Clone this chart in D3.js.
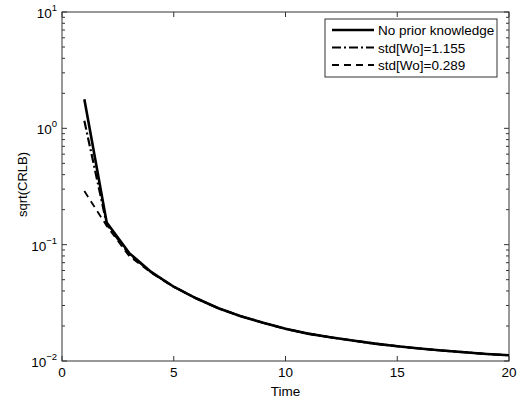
<!DOCTYPE html>
<html>
<head>
<title>sqrt(CRLB) vs Time</title>
<style>
body { margin: 0; background: #fff; font-family: "Liberation Sans", Arial, sans-serif; }
</style>
</head>
<body>
<div id="svg-container"></div>
<script src="https://d3js.org/d3.v7.min.js"></script>
<script>
const width = 527;
const height = 402;

// data
const time = [1, 2, 3, 4, 5, 6, 7, 8, 9, 10, 11, 12, 13, 14, 15, 16, 17, 18, 19, 20];
const noPrior = [1.78, 0.155, 0.085, 0.058, 0.0435, 0.0346, 0.0284, 0.0243, 0.0213, 0.0189,
                 0.0172, 0.0160, 0.0150, 0.0141, 0.0134, 0.0128, 0.0123, 0.0119, 0.0115, 0.0112];
const std1155 = [1.16, 0.150, 0.083, 0.058, 0.0435, 0.0346, 0.0284, 0.0243, 0.0213, 0.0189,
                 0.0172, 0.0160, 0.0150, 0.0141, 0.0134, 0.0128, 0.0123, 0.0119, 0.0115, 0.0112];
const std0289 = [0.289, 0.145, 0.080, 0.057, 0.0433, 0.0345, 0.0284, 0.0243, 0.0213, 0.0189,
                 0.0172, 0.0160, 0.0150, 0.0141, 0.0134, 0.0128, 0.0123, 0.0119, 0.0115, 0.0112];
const seriesNames = ["No prior knowledge", "std[Wo]=1.155", "std[Wo]=0.289"];
const xTicks = [0, 5, 10, 15, 20];
const yDecades = [-2, -1, 0, 1];

const margin = { left: 62, right: 18, top: 12, bottom: 41 };
const x = d3.scaleLinear().domain([0, 20]).range([margin.left, width - margin.right]);
const y = d3.scaleLog().domain([0.01, 10]).range([height - margin.bottom, margin.top]);

const svg = d3.select("#svg-container")
  .append("svg")
  .attr("width", width)
  .attr("height", height);

svg.append("rect")
    .attr("width", width)
    .attr("height", height)
    .attr("fill", "#fff");

const axisColor = "#333";
const font = "'Liberation Sans', Arial, sans-serif";

// box
svg.append("rect")
    .attr("x", x(0))
    .attr("y", y(10))
    .attr("width", x(20) - x(0))
    .attr("height", y(0.01) - y(10))
    .attr("fill", "none")
    .attr("stroke", axisColor)
    .attr("stroke-width", 1);

// y minor/major ticks on both sides (inward)
const yTickVals = [];
yDecades.forEach(d => {
  if (d < 1) {
    for (let m = 1; m <= 9; m++) yTickVals.push({ v: m * Math.pow(10, d), major: m === 1 });
  } else {
    yTickVals.push({ v: Math.pow(10, d), major: true });
  }
});
yTickVals.forEach(t => {
  const len = t.major ? 5 : 3;
  const yy = y(t.v);
  svg.append("line").attr("x1", x(0)).attr("x2", x(0) + len).attr("y1", yy).attr("y2", yy)
    .attr("stroke", axisColor);
  svg.append("line").attr("x1", x(20)).attr("x2", x(20) - len).attr("y1", yy).attr("y2", yy)
    .attr("stroke", axisColor);
});

// x ticks top and bottom
xTicks.forEach(t => {
  svg.append("line").attr("x1", x(t)).attr("x2", x(t)).attr("y1", y(0.01)).attr("y2", y(0.01) - 5)
    .attr("stroke", axisColor);
  svg.append("line").attr("x1", x(t)).attr("x2", x(t)).attr("y1", y(10)).attr("y2", y(10) + 5)
    .attr("stroke", axisColor);
  svg.append("text")
    .attr("x", x(t))
    .attr("y", y(0.01) + 16)
    .attr("text-anchor", "middle")
    .attr("font-family", font)
    .attr("font-size", 13.5)
    .text(t);
});

// y tick labels 10^n
yDecades.forEach(d => {
  const txt = svg.append("text")
    .attr("x", 57)
    .attr("y", y(Math.pow(10, d)) + 6)
    .attr("text-anchor", "end")
    .attr("font-family", font)
    .attr("font-size", 13.5);
  txt.append("tspan").text("10");
  txt.append("tspan").attr("dy", -7).attr("font-size", 9.5).text(d === 1 ? "1" : d === 0 ? "0" : "\u2212" + (-d));
});

// axis labels
svg.append("text")
    .attr("x", (x(0) + x(20)) / 2)
    .attr("y", 396)
    .attr("text-anchor", "middle")
    .attr("font-family", font)
    .attr("font-size", 13.5)
    .text("Time");

svg.append("text")
    .attr("transform", `translate(27, ${(y(0.01) + y(10)) / 2 - 2}) rotate(-90)`)
    .attr("text-anchor", "middle")
    .attr("font-family", font)
    .attr("font-size", 13)
    .text("sqrt(CRLB)");

// lines
const styles = [
  { data: noPrior, width: 2.6, dash: null },
  { data: std1155, width: 2.2, dash: "9,3,2,3" },
  { data: std0289, width: 1.8, dash: "7,5" }
];

const line = d3.line()
  .x((d, i) => x(time[i]))
  .y(d => y(d));

const plot = svg.append("g");
styles.slice().reverse().forEach(s => {
  plot.append("path")
    .attr("d", line(s.data))
    .attr("fill", "none")
    .attr("stroke", "#000")
    .attr("stroke-width", s.width)
    .attr("stroke-dasharray", s.dash);
});

// legend
const legend = svg.append("g").attr("transform", "translate(325, 19)");
legend.append("rect")
    .attr("width", 172)
    .attr("height", 58)
    .attr("fill", "#fff")
    .attr("stroke", axisColor);

seriesNames.forEach((name, i) => {
  const ly = 11 + i * 17.5;
  legend.append("line")
    .attr("x1", 7).attr("x2", 49)
    .attr("y1", ly).attr("y2", ly)
    .attr("stroke", "#000")
    .attr("stroke-width", styles[i].width)
    .attr("stroke-dasharray", styles[i].dash);
  legend.append("text")
    .attr("x", 53)
    .attr("y", ly + 5)
    .attr("font-family", font)
    .attr("font-size", 13.5)
    .text(name);
});
</script>
</body>
</html>
